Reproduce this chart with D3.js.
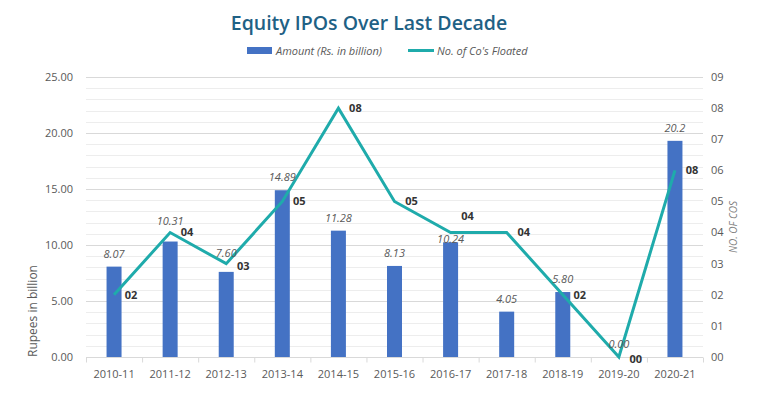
<!DOCTYPE html>
<html lang="en">
<head>
    <meta charset="UTF-8">
    <title>Equity IPOs Over Last Decade</title>
    <style>
        body {
            margin: 0;
            background: #fff;
            font-family: "Open Sans", Arial, sans-serif;
        }

        .grid-minor { stroke: #ededed; stroke-width: 1px; }
        .grid-major { stroke: #d9d9d9; stroke-width: 1px; }

        .tick-label {
            font-size: 11px;
            fill: #595959;
        }

        .bar { fill: #4472c4; }

        .count-line {
            fill: none;
            stroke: #1fabab;
            stroke-width: 3px;
            stroke-linejoin: miter;
        }

        .bar-label {
            font-size: 11px;
            font-style: italic;
            fill: #595959;
            text-anchor: middle;
        }

        .count-label {
            font-size: 11px;
            font-weight: 700;
            fill: #333;
            text-anchor: middle;
        }
    </style>
</head>
<body>
    <svg id="chart" width="757" height="395"></svg>

    <script src="https://d3js.org/d3.v7.min.js"></script>
    <script>
        // data
        const years = ["2010-11", "2011-12", "2012-13", "2013-14", "2014-15", "2015-16",
                       "2016-17", "2017-18", "2018-19", "2019-20", "2020-21"];
        const amounts = [8.07, 10.31, 7.60, 14.89, 11.28, 8.13, 10.24, 4.05, 5.80, 0.00, 19.3];
        const amountLabels = ["8.07", "10.31", "7.60", "14.89", "11.28", "8.13", "10.24", "4.05", "5.80", "0.00", "20.2"];
        const companies = [2, 4, 3, 5, 8, 5, 4, 4, 2, 0, 6];
        const companyLabels = ["02", "04", "03", "05", "08", "05", "04", "04", "02", "00", "08"];
        const leftTicks = [0, 5, 10, 15, 20, 25];
        const rightTicks = [0, 1, 2, 3, 4, 5, 6, 7, 8, 9];

        // hand nudges for labels that were dragged in the original
        const barLabelLift = [0, 8, 6, 0, 0, 0, -10, 0, 0, 0, 0];
        const countLabelShift = [[0, 0], [0, 0], [0, 2], [0, 0], [0, 0], [0, 0],
                                 [0, -16], [0, 0], [0, 0], [0, 2], [0, 0]];

        const svg = d3.select("#chart");

        const plotL = 86, plotR = 703, plotT = 77, plotB = 357;

        const x = d3.scaleBand()
            .domain(years)
            .range([plotL, plotR]);

        const yL = d3.scaleLinear().domain([0, 25]).range([plotB, plotT]);
        const yR = d3.scaleLinear().domain([0, 9]).range([plotB, plotT]);

        // title
        svg.append("text")
            .attr("x", 369)
            .attr("y", 30)
            .attr("text-anchor", "middle")
            .style("font-size", "19.5px")
            .style("font-weight", 600)
            .style("fill", "#1f6185")
            .text("Equity IPOs Over Last Decade");

        // legend
        const legend = svg.append("g").style("font-size", "11px").style("font-style", "italic").style("fill", "#595959");
        legend.append("rect").attr("x", 247).attr("y", 47).attr("width", 25).attr("height", 7).attr("fill", "#4472c4");
        legend.append("text").attr("x", 276).attr("y", 55).text("Amount  (Rs. in billion)");
        legend.append("line").attr("x1", 408).attr("x2", 434).attr("y1", 50.5).attr("y2", 50.5)
            .attr("stroke", "#1fabab").attr("stroke-width", 3);
        legend.append("text").attr("x", 437).attr("y", 55).text("No. of Co's Floated");

        // gridlines, one per unit on the left scale
        d3.range(1, 26).forEach(v => {
            svg.append("line")
                .attr("class", v % 5 === 0 ? "grid-major" : "grid-minor")
                .attr("x1", plotL).attr("x2", plotR)
                .attr("y1", Math.round(yL(v)) + 0.5).attr("y2", Math.round(yL(v)) + 0.5);
        });

        // x axis
        const xAxis = svg.append("g").attr("transform", `translate(0,${plotB + 0.5})`);
        xAxis.append("line").attr("x1", plotL).attr("x2", plotR).attr("stroke", "#d9d9d9");
        xAxis.selectAll(".xt")
            .data(years.concat(["end"]))
            .enter()
            .append("line")
            .attr("x1", (d, i) => plotL + i * x.step() + 0.5)
            .attr("x2", (d, i) => plotL + i * x.step() + 0.5)
            .attr("y1", 0).attr("y2", 5)
            .attr("stroke", "#d9d9d9");
        xAxis.selectAll(".xl")
            .data(years)
            .enter()
            .append("text")
            .attr("class", "tick-label")
            .attr("x", d => x(d) + x.bandwidth() / 2)
            .attr("y", 20)
            .attr("text-anchor", "middle")
            .text(d => d);

        // left axis labels
        svg.selectAll(".yl")
            .data(leftTicks)
            .enter()
            .append("text")
            .attr("class", "tick-label")
            .attr("x", 73)
            .attr("y", d => yL(d))
            .attr("dy", "0.35em")
            .attr("text-anchor", "end")
            .text(d => d3.format(".2f")(d));

        svg.append("text")
            .attr("transform", "translate(37,311) rotate(-90)")
            .attr("text-anchor", "middle")
            .style("font-size", "12px")
            .style("fill", "#595959")
            .text("Rupees in billion");

        // right axis labels
        svg.selectAll(".yr")
            .data(rightTicks)
            .enter()
            .append("text")
            .attr("class", "tick-label")
            .attr("x", 711)
            .attr("y", d => yR(d))
            .attr("dy", "0.35em")
            .text(d => d3.format("02d")(d));

        svg.append("text")
            .attr("transform", "translate(737,227) rotate(-90)")
            .attr("text-anchor", "middle")
            .style("font-size", "10px")
            .style("font-style", "italic")
            .style("fill", "#7f7f7f")
            .text("NO. OF COS");

        // bars
        const barW = 15;
        svg.selectAll(".bar")
            .data(amounts)
            .enter()
            .append("rect")
            .attr("class", "bar")
            .attr("x", (d, i) => x(years[i]) + x.bandwidth() / 2 - barW / 2)
            .attr("y", d => yL(d))
            .attr("width", barW)
            .attr("height", d => plotB - yL(d));

        // line
        const line = d3.line()
            .x((d, i) => x(years[i]) + x.bandwidth() / 2)
            .y(d => yR(d));

        svg.append("path")
            .datum(companies)
            .attr("class", "count-line")
            .attr("d", line);

        // bar value labels
        svg.selectAll(".bar-label")
            .data(amounts)
            .enter()
            .append("text")
            .attr("class", "bar-label")
            .attr("x", (d, i) => x(years[i]) + x.bandwidth() / 2)
            .attr("y", (d, i) => yL(d) - 9 - barLabelLift[i])
            .text((d, i) => amountLabels[i]);

        // company count labels
        svg.selectAll(".count-label")
            .data(companies)
            .enter()
            .append("text")
            .attr("class", "count-label")
            .attr("x", (d, i) => x(years[i]) + x.bandwidth() / 2 + 17 + countLabelShift[i][0])
            .attr("y", (d, i) => yR(d) + countLabelShift[i][1])
            .attr("dy", "0.35em")
            .text((d, i) => companyLabels[i]);
    </script>
</body>
</html>
